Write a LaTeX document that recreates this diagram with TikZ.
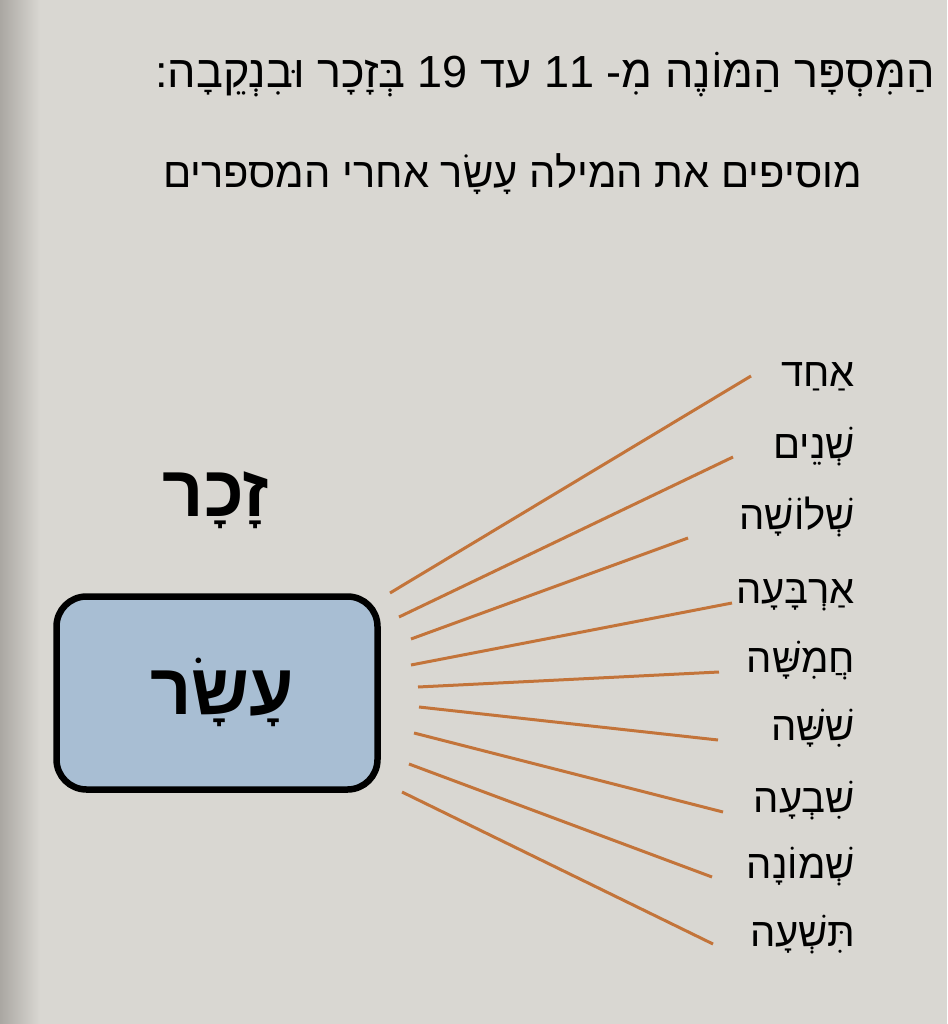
\documentclass[tikz,border=0pt]{standalone}
\usepackage{fontspec}
\setmainfont{Liberation Sans}
\newfontfamily\hebfont[Script=Hebrew]{Liberation Sans}
\TeXXeTstate=1

\definecolor{paper}{RGB}{217,215,210}
\definecolor{gutter}{RGB}{170,167,162}
\definecolor{boxblue}{RGB}{168,190,211}
\definecolor{rayorange}{RGB}{195,116,58}

\newcommand\heb[1]{\hebfont\beginR #1\endR}
\newcommand\titlestyle{\fontsize{45}{45}\selectfont}
\newcommand\rulestyle{\fontsize{41.7}{42}\selectfont}
\newcommand\wordstyle{\fontsize{40}{40}\selectfont}
\newcommand\bigwordstyle{\fontsize{72}{72}\selectfont\bfseries}

\tikzset{
  heading/.style={anchor=base east, inner sep=0pt, font=\titlestyle},
  numword/.style={anchor=base east, inner sep=0pt, font=\wordstyle},
  bigword/.style={anchor=base, inner sep=0pt, font=\bigwordstyle},
  tenbox/.style={draw=black, line width=6.5pt, fill=boxblue, rounded corners=30pt},
  ray/.style={draw=rayorange, line width=3pt}
}

\begin{document}
\begin{tikzpicture}[x=1pt, y=-1pt]
    \useasboundingbox (0,0) rectangle (947,1024);
    \fill[paper] (0,0) rectangle (947,1024);
    \shade[left color=gutter, right color=paper] (0,0) rectangle (40,1024);

    % heading
    \node[heading] (title) at (935,88)
      {\heb{הַמִּסְפָּר הַמּוֹנֶה מִ- \beginL 11\endL{} עד \beginL 19\endL{} בְּזָכָר וּבִנְקֵבָה:}};
    \node[heading, font=\rulestyle] (rule) at (862,188)
      {\heb{מוסיפים את המילה עָשָׂר אחרי המספרים}};

    % the word ten
    \node[bigword] (male) at (216,516) {\heb{זָכָר}};
    \draw[tenbox] (56.5,596.5) rectangle (377.5,789.5);
    \node[bigword] (ten) at (222,714) {\heb{עָשָׂר}};

    % one .. nine
    \foreach \i/\word/\y in {1/אַחַד/386, 2/שְׁנֵים/458, 3/שְׁלוֹשָׁה/529,
        4/אַרְבָּעָה/603, 5/חֲמִשָּׁה/672, 6/שִׁשָּׁה/740, 7/שִׁבְעָה/812,
        8/שְׁמוֹנָה/878, 9/תִּשְׁעָה/946}
      \node[numword] (w\i) at (855,\y) {\heb{\word}};

    \foreach \i/\sx/\sy/\ex/\ey in {1/390/593/751/376, 2/399/617/733/457,
        3/411/639/688/538, 4/411/665/732/603, 5/418/687/719/672,
        6/419/707/718/740, 7/414/733/723/812, 8/409/764/712/877,
        9/402/792/713/944}
    {
      \coordinate (s\i) at (\sx,\sy);
      \coordinate (e\i) at (\ex,\ey);
      \draw[ray] (s\i) -- (e\i);
    }
\end{tikzpicture}
\end{document}
